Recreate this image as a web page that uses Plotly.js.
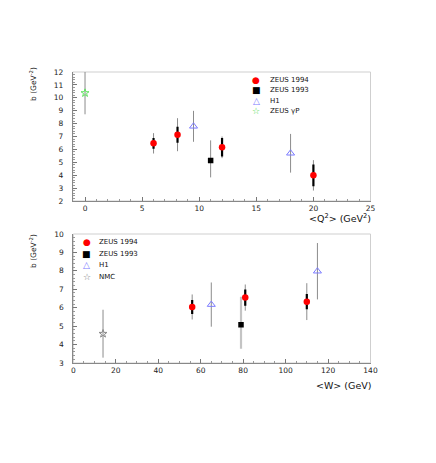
<!DOCTYPE html>
<html>
<head>
<meta charset="utf-8">
<script src="https://cdn.plot.ly/plotly-3.0.1.min.js"></script>
<style>
  html, body { margin: 0; padding: 0; background: #fff; }
  #plotDiv { width: 436px; height: 463px; }
</style>
</head>
<body>
<div id="plotDiv"></div>
<script>
// top panel : b against <Q2>
var q2Zeus94 = [6, 8.1, 12, 20];
var bQ2Zeus94 = [6.47, 7.14, 6.16, 3.99];
var statQ2Zeus94 = [0.42, 0.62, 0.72, 0.84];
var totQ2Zeus94 = [0.79, 1.28, 0.84, 1.18];

var q2Zeus93 = [11];
var bQ2Zeus93 = [5.13];
var totUpQ2Zeus93 = [1.57];
var totDnQ2Zeus93 = [1.3];

var q2H1 = [9.5, 18];
var bQ2H1 = [7.79, 5.7];
var totQ2H1 = [1.2, 1.5];

var q2Gp = [0];
var bQ2Gp = [10.37];
var totQ2Gp = [1.65];

// bottom panel : b against <W>
var wZeus94 = [56, 81, 110];
var bWZeus94 = [6.04, 6.55, 6.33];
var statWZeus94 = [0.38, 0.44, 0.42];
var totWZeus94 = [0.68, 0.71, 1.0];

var wZeus93 = [79];
var bWZeus93 = [5.08];
var totUpWZeus93 = [1.52];
var totDnWZeus93 = [1.31];

var wH1 = [65, 115];
var bWH1 = [6.17, 7.98];
var totWH1 = [1.2, 1.53];

var wNmc = [14];
var bWNmc = [4.59];
var totWNmc = [1.3];

var legendTop = ['ZEUS 1994', 'ZEUS 1993', 'H1', 'ZEUS \u03b3P'];
var legendBot = ['ZEUS 1994', 'ZEUS 1993', 'H1', 'NMC'];

var W = 436, H = 463;
var FONT = 'DejaVu Sans, Arial, sans-serif';

function px(x){ return x / W; }
function py(y){ return 1 - y / H; }

function errBar(plus, minus, color, thick){
  return {
    type: 'data', symmetric: minus ? false : true,
    array: plus, arrayminus: minus || plus,
    color: color, thickness: thick, width: 0
  };
}

function totTrace(x, y, plus, minus, xa, ya, color, thick){
  return {
    x: x, y: y, xaxis: xa, yaxis: ya,
    mode: 'markers', type: 'scatter',
    marker: {opacity: 0, size: 2},
    error_y: errBar(plus, minus, color || '#8c8c8c', thick || 1),
    hoverinfo: 'skip', showlegend: false
  };
}

function markTrace(x, y, stat, xa, ya, marker){
  var t = {
    x: x, y: y, xaxis: xa, yaxis: ya,
    mode: 'markers', type: 'scatter',
    marker: marker, showlegend: false
  };
  if (stat) t.error_y = errBar(stat, null, '#000', 2.2);
  return t;
}

var red = {symbol: 'circle', size: 6.5, color: '#ff0000'};
var sq = {symbol: 'square', size: 5.5, color: '#000'};
var tri = {symbol: 'triangle-up-open', size: 7, color: '#7b7bff', line: {width: 1}};
var starG = {symbol: 'star-open', size: 6, color: '#5fe35f', line: {width: 1}};
var starN = {symbol: 'star-open', size: 6, color: '#8a8a8a', line: {width: 1}};

var data = [
  totTrace(q2Gp, bQ2Gp, totQ2Gp, null, 'x', 'y'),
  totTrace(q2H1, bQ2H1, totQ2H1, null, 'x', 'y'),
  totTrace(q2Zeus93, bQ2Zeus93, totUpQ2Zeus93, totDnQ2Zeus93, 'x', 'y'),
  totTrace(q2Zeus94, bQ2Zeus94, totQ2Zeus94, null, 'x', 'y'),
  markTrace(q2Gp, bQ2Gp, null, 'x', 'y', starG),
  markTrace(q2H1, bQ2H1, null, 'x', 'y', tri),
  markTrace(q2Zeus93, bQ2Zeus93, null, 'x', 'y', sq),
  markTrace(q2Zeus94, bQ2Zeus94, statQ2Zeus94, 'x', 'y', red),

  totTrace(wNmc, bWNmc, totWNmc, null, 'x2', 'y2'),
  totTrace(wH1, bWH1, totWH1, null, 'x2', 'y2'),
  totTrace(wZeus93, bWZeus93, totUpWZeus93, totDnWZeus93, 'x2', 'y2', '#c4c4c4', 2.2),
  totTrace(wZeus94, bWZeus94, totWZeus94, null, 'x2', 'y2'),
  markTrace(wNmc, bWNmc, null, 'x2', 'y2', starN),
  markTrace(wH1, bWH1, null, 'x2', 'y2', tri),
  markTrace(wZeus93, bWZeus93, null, 'x2', 'y2', sq),
  markTrace(wZeus94, bWZeus94, statWZeus94, 'x2', 'y2', red)
];

function axis(dom, range, dtick, minor, anchor){
  return {
    domain: dom, range: range, anchor: anchor,
    dtick: dtick, tick0: 0, ticks: 'inside', ticklen: 4, tickwidth: 1, tickcolor: '#777',
    minor: {dtick: minor, ticks: 'inside', ticklen: 2, tickcolor: '#999'},
    showline: true, linecolor: '#888', linewidth: 1,
    showgrid: false, zeroline: false,
    tickfont: {family: FONT, size: 7.5, color: '#222'}
  };
}

var ann = [];
var shapes = [];

function frame(x0, x1, y0, y1){
  shapes.push({type: 'rect', xref: 'paper', yref: 'paper', layer: 'below',
    x0: px(x0), x1: px(x1), y0: py(y1), y1: py(y0),
    line: {color: '#cfcfcf', width: 1}});
}

function label(text, x, y, xanchor, size, angle){
  ann.push({text: text, xref: 'paper', yref: 'paper', x: px(x), y: py(y),
    xanchor: xanchor, yanchor: 'middle', showarrow: false, textangle: angle || 0,
    font: {family: FONT, size: size, color: '#111'}});
}

var symChars = ['\u25cf', '\u25a0', '\u25b3', '\u2606'];

function legend(names, colors, sx, tx, rows){
  for (var i = 0; i < names.length; i++){
    ann.push({text: symChars[i], xref: 'paper', yref: 'paper', x: px(sx), y: py(rows[i]),
      xanchor: 'center', yanchor: 'middle', showarrow: false,
      font: {family: FONT, size: 9, color: colors[i]}});
    label(names[i], tx, rows[i], 'left', 7);
  }
}

frame(72.7, 370.5, 72, 201);
frame(73.3, 370.5, 234, 363);

legend(legendTop, ['#ff0000', '#000', '#7b7bff', '#3fd83f'], 256, 268, [80, 90.3, 100.6, 110.9]);
legend(legendBot, ['#ff0000', '#000', '#7b7bff', '#777'], 86.7, 97, [242.3, 253.8, 265.3, 276.8]);

label('&lt;Q<sup>2</sup>&gt; (GeV<sup>2</sup>)', 373, 217.5, 'right', 9.5);
label('&lt;W&gt; (GeV)', 373, 385, 'right', 9.5);
label('b (GeV<sup>-2</sup>)', 33, 84, 'center', 7.5, -90);
label('b (GeV<sup>-2</sup>)', 33, 251, 'center', 7.5, -90);

var layout = {
  width: W, height: H,
  margin: {l: 0, r: 0, t: 0, b: 0},
  paper_bgcolor: '#fff', plot_bgcolor: 'rgba(0,0,0,0)',
  showlegend: false,
  xaxis: axis([px(72.7), px(370.5)], [-1.08, 25], 5, 1, 'y'),
  yaxis: axis([py(201), py(72)], [2, 12], 1, 0.2, 'x'),
  xaxis2: axis([px(73.3), px(370.5)], [0, 140], 20, 5, 'y2'),
  yaxis2: axis([py(363), py(234)], [3, 10], 1, 0.2, 'x2'),
  annotations: ann,
  shapes: shapes
};
layout.yaxis.ticklabelstandoff = 7;
layout.yaxis2.ticklabelstandoff = 7;

Plotly.newPlot('plotDiv', data, layout, {displayModeBar: false, staticPlot: true});
</script>
</body>
</html>
